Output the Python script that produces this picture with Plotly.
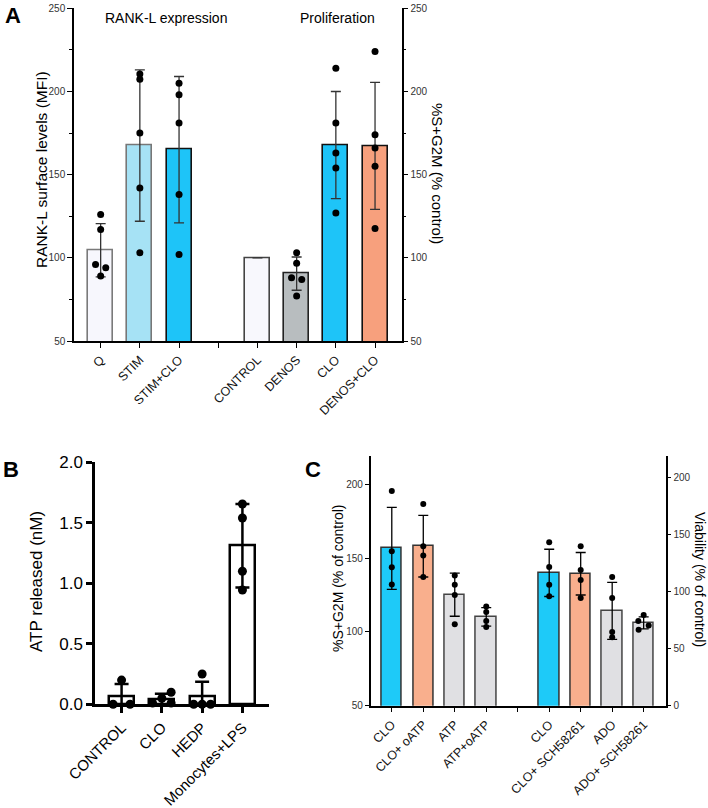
import plotly.graph_objects as go

# ---------------- Panel A data ----------------
a_categories = ["Q", "STIM", "STIM+CLO", "", "CONTROL", "DENOS", "CLO", "DENOS+CLO"]
a_means = [104.5, 167.5, 165, None, 100, 90.5, 167.8, 167.3]
a_sd = [16, 45.5, 44, None, None, 10, 32.2, 38.2]
a_points = [
    [126, 117, 96, 94, 89],
    [210.5, 207.3, 175, 142, 103],
    [205, 198, 181, 138, 102],
    [],
    [],
    [103, 96.7, 88, 87, 77],
    [214, 181, 163, 154, 127],
    [224, 174, 166, 155, 117.7],
]
a_jitter = [
    [0, 0, -0.13, 0.13, 0],
    [0, 0, 0, 0, 0],
    [0, 0, 0, 0, 0],
    [],
    [],
    [0, 0, -0.13, 0.13, 0],
    [0, 0, 0, 0, 0],
    [0, 0, 0, 0, 0],
]
a_fill = ["#F7F7FD", "#A6E2F5", "#1EC4F8", None, "#F8F8FD", "#B8BDBF", "#1EC4F8", "#F7A07D"]
a_edge = ["#7A7A7A", "#777777", "#111111", None, "#444444", "#222222", "#111111", "#111111"]

# ---------------- Panel B data ----------------
b_categories = ["CONTROL", "CLO", "HEDP", "Monocytes+LPS"]
b_means = [0.067, 0.04, 0.065, 1.31]
b_sd = [0.1, 0.047, 0.122, 0.345]
b_points = [
    [0.2, 0.0, 0.0],
    [0.1, 0.05, 0.01, 0.01],
    [0.25, 0.0, 0.0, 0.0],
    [1.655, 1.54, 1.1, 0.945],
]
b_jitter = [
    [0, -0.21, 0.21],
    [0.23, 0, -0.23, 0.23],
    [0, -0.21, 0, 0.21],
    [0, 0, 0, 0],
]

# ---------------- Panel C data ----------------
c_categories = ["CLO", "CLO+ oATP", "ATP", "ATP+oATP", "",
                "CLO", "CLO+ SCH58261", "ADO", "ADO+ SCH58261"]
c_means = [156.6, 158.1, 125.2, 110.2, None, 140, 139.4, 114.2, 106.1]
c_sd = [27.8, 20.9, 14.6, 6.3, None, 16, 14.4, 19.3, 4.1]
c_points = [
    [195.5, 154.7, 143.9, 132.2],
    [186.7, 158, 151.8, 137.2],
    [138.3, 132, 125, 105.2],
    [117.3, 113.5, 107.4, 103.4],
    [],
    [160.8, 144, 132, 124.1],
    [158.1, 141.9, 135.1, 123],
    [137.2, 123, 100, 96.4],
    [111.5, 107.4, 104.3, 101.4],
]
c_jitter = [
    [0, 0, 0, 0], [0, 0, 0, 0], [0, 0, 0, 0], [0, 0, 0, 0], [],
    [0, 0, 0, 0], [0, 0, 0, 0], [0, 0, 0, 0], [0, -0.17, 0.16, -0.16],
]
c_fill = ["#1ECAF8", "#F9AF8D", "#E0E0E3", "#E0E0E3", None,
          "#1ECAF8", "#F9AF8D", "#E0E0E3", "#E0E0E3"]
c_edge = ["#333333", "#333333", "#444444", "#444444", None,
          "#333333", "#333333", "#444444", "#444444"]

FONT = "Arial, Liberation Sans, sans-serif"
W, H = 708, 808


def fx(px):
    return px / W


def fy(py):
    return 1 - py / H


fig = go.Figure()


def add_panel(cats, means, sds, pts, jit, fills, edges, xa, ya, bw, line_w,
              err_w, err_cap, err_col, msize, clip_lower=False):
    idx = [i for i, c in enumerate(cats) if means[i] is not None]
    ys = [means[i] for i in idx]
    ups, downs = [], []
    for i in idx:
        s = sds[i]
        if s is None:
            ups.append(None)
            downs.append(None)
        else:
            ups.append(s)
            downs.append(min(s, means[i]) if clip_lower else s)
    fig.add_trace(go.Bar(
        x=idx, y=ys, width=bw, xaxis=xa, yaxis=ya,
        marker=dict(color=[fills[i] for i in idx],
                    line=dict(color=[edges[i] for i in idx], width=line_w)),
        error_y=dict(type="data", array=ups, arrayminus=downs, symmetric=False,
                     color=err_col, thickness=err_w, width=err_cap),
        showlegend=False, hoverinfo="skip"))
    px_, py_ = [], []
    for i, vals in enumerate(pts):
        for v, j in zip(vals, jit[i]):
            px_.append(i + j)
            py_.append(v)
    fig.add_trace(go.Scatter(
        x=px_, y=py_, mode="markers", xaxis=xa, yaxis=ya,
        marker=dict(color="black", size=msize),
        cliponaxis=False, showlegend=False, hoverinfo="skip"))


# Panel A
add_panel(a_categories, a_means, a_sd, a_points, a_jitter, a_fill, a_edge,
          "x", "y", 0.64, 1.6, 1.3, 5, "#333333", 7)
# Panel B
add_panel(b_categories, b_means, b_sd, b_points, b_jitter,
          ["white"] * 4, ["black"] * 4, "x2", "y3", 0.62, 2.5, 2.5, 7,
          "black", 9, clip_lower=True)
# Panel C
add_panel(c_categories, c_means, c_sd, c_points, c_jitter, c_fill, c_edge,
          "x3", "y4", 0.64, 1.5, 1.3, 5, "black", 6)

# dummy traces for right axes
fig.add_trace(go.Scatter(x=[0], y=[100], xaxis="x", yaxis="y2", mode="markers",
                         marker=dict(opacity=0), showlegend=False, hoverinfo="skip"))
fig.add_trace(go.Scatter(x=[0], y=[100], xaxis="x3", yaxis="y5", mode="markers",
                         marker=dict(opacity=0), showlegend=False, hoverinfo="skip"))

axis_common = dict(showgrid=False, zeroline=False, showline=True, linecolor="black",
                   ticks="outside", tickcolor="black", fixedrange=True,
                   automargin=False)

fig.update_layout(
    template="none",
    width=W, height=H, margin=dict(l=0, r=0, t=0, b=0, autoexpand=False),
    paper_bgcolor="white", plot_bgcolor="rgba(0,0,0,0)",
    font=dict(family=FONT, color="black"),
    bargap=0,
    # ---- Panel A
    xaxis=dict(axis_common, domain=[fx(74), fx(401.7)], anchor="y",
               range=[-0.68, 7.68], tickvals=list(range(len(a_categories))),
               ticktext=a_categories, tickangle=-45, linewidth=1.5, ticklen=5,
               tickfont=dict(size=12.5, color="#111")),
    yaxis=dict(axis_common, domain=[fy(341), fy(8.3)], anchor="x",
               range=[50, 250], dtick=50, tick0=50, linewidth=1.5, ticklen=5,
               tickfont=dict(size=10, color="#333"),
               minor=dict(dtick=25, tick0=25, ticklen=3, ticks="outside", tickcolor="black")),
    yaxis2=dict(axis_common, overlaying="y", side="right", anchor="x",
                range=[50, 250], dtick=50, tick0=50, linewidth=1.5, ticklen=5,
                tickfont=dict(size=10, color="#333"),
                minor=dict(dtick=25, tick0=25, ticklen=3, ticks="outside", tickcolor="black")),
    # ---- Panel B
    xaxis2=dict(axis_common, domain=[fx(95), fx(269)], anchor="y3",
                range=[-0.66, 3.66], tickvals=list(range(len(b_categories))),
                ticktext=b_categories, tickangle=-45, linewidth=2.5, ticklen=6,
                tickwidth=2.5, tickfont=dict(size=15)),
    yaxis3=dict(axis_common, domain=[fy(704.3), fy(462.3)], anchor="x2",
                range=[0, 2], dtick=0.5, tickformat=".1f", linewidth=2.5,
                ticklen=6, tickwidth=2.5, tickfont=dict(size=17)),
    # ---- Panel C
    xaxis3=dict(axis_common, domain=[fx(370.7), fx(665.7)], anchor="y4",
                range=[-0.67, 8.7], tickvals=list(range(len(c_categories))),
                ticktext=c_categories, tickangle=-45, linewidth=1.5, ticklen=5,
                tickfont=dict(size=12.5, color="#111")),
    yaxis4=dict(axis_common, domain=[fy(705.7), fy(456)], anchor="x3",
                range=[50, 219.2], tickvals=[50, 100, 150, 200], linewidth=1.5,
                ticklen=4, tickfont=dict(size=10, color="#333")),
    yaxis5=dict(axis_common, overlaying="y4", side="right", anchor="x3",
                range=[0, 219], tickvals=[0, 50, 100, 150, 200], linewidth=1.5,
                ticklen=4, tickfont=dict(size=10, color="#333")),
)

ann = [
    dict(text="<b>A</b>", x=fx(13), y=fy(15), font=dict(size=22)),
    dict(text="<b>B</b>", x=fx(11), y=fy(470), font=dict(size=22)),
    dict(text="<b>C</b>", x=fx(313), y=fy(470), font=dict(size=22)),
    dict(text="RANK-L expression", x=fx(166), y=fy(18), font=dict(size=14)),
    dict(text="Proliferation", x=fx(337), y=fy(18), font=dict(size=14)),
    dict(text="RANK-L surface levels (MFI)", x=fx(42), y=fy(170), textangle=-90,
         font=dict(size=15.5)),
    dict(text="%S+G2M (% control)", x=fx(437), y=fy(174), textangle=90,
         font=dict(size=15)),
    dict(text="ATP released (nM)", x=fx(36), y=fy(582), textangle=-90,
         font=dict(size=17)),
    dict(text="%S+G2M (% of control)", x=fx(338), y=fy(579), textangle=-90,
         font=dict(size=14)),
    dict(text="Viability (% of control)", x=fx(700), y=fy(579), textangle=90,
         font=dict(size=14)),
]
for a in ann:
    a.update(xref="paper", yref="paper", showarrow=False, xanchor="center", yanchor="middle")
    a["font"] = dict(a["font"], family=FONT, color="black")
fig.update_layout(annotations=ann)

fig.write_html("out.html")
